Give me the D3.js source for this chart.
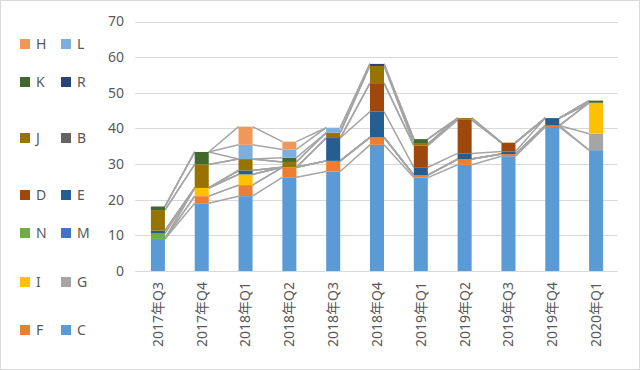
<!DOCTYPE html>
<html><head><meta charset="utf-8">
<script src="https://cdn.jsdelivr.net/npm/d3@7"></script>
<style>
html,body{margin:0;padding:0;background:#fff;}
text{font-family:"Noto Sans","Noto Sans CJK SC",sans-serif;fill:#595959;}
</style></head>
<body><svg id="chart" width="640" height="370"></svg>
<script>
const categories = ["2017年Q3","2017年Q4","2018年Q1","2018年Q2","2018年Q3","2018年Q4","2019年Q1","2019年Q2","2019年Q3","2019年Q4","2020年Q1"];
// stacking order bottom -> top
const seriesNames = ["C","F","G","I","M","N","E","D","B","J","R","K","L","H"];
const C = [9.0, 19.0, 21.0, 26.3, 27.9, 35.4, 26.2, 29.8, 32.2, 40.4, 33.9];
const F = [0,   2.0,  3.1,  2.8,  3.0,  2.1,  0.7,  1.6,  0.6,  0.4,  0];
const G = [0,   0,    0,    0,    0,    0,    0,    0,    0,    0,    4.6];
const I = [0,   2.3,  3.0,  0,    0,    0,    0,    0,    0,    0,    8.7];
const M = [0,   0,    0,    0,    0,    0,    0,    0,    0,    0,    0];
const N = [1.5, 0,    0,    0,    0,    0,    0,    0,    0,    0,    0];
const E = [0.8, 0,    1.1,  0,    6.4,  7.2,  2.2,  1.6,  0.7,  2.1,  0];
const D = [0,   0,    0,    0,    0,    8.0,  6.1,  9.4,  2.5,  0,    0];
const B = [0,   0,    0,    0,    0,    0,    0,    0,    0,    0,    0];
const J = [5.8, 6.6,  3.2,  1.5,  1.5,  4.8,  0.5,  0.5,  0,    0,    0];
const R = [0,   0,    0,    0,    0,    0.6,  0,    0,    0,    0,    0];
const K = [1.0, 3.5,  0,    1.2,  0,    0,    1.3,  0,    0,    0,    0.6];
const L = [0,   0,    4.0,  2.3,  1.4,  0,    0,    0,    0,    0,    0];
const H = [0,   0,    5.1,  2.2,  0,    0,    0,    0,    0,    0,    0];
const seriesValues = {C,F,G,I,M,N,E,D,B,J,R,K,L,H};
const colors = {C:"#5B9BD5",F:"#ED7D31",G:"#A5A5A5",I:"#FFC000",M:"#4472C4",N:"#70AD47",
  E:"#255E91",D:"#9E480E",B:"#636363",J:"#997300",R:"#264478",K:"#43682B",L:"#7CAFDD",H:"#F1975A"};
const yTicks = [0,10,20,30,40,50,60,70];
// legend rows (left, right)
const legendRows = [["H","L"],["K","R"],["J","B"],["D","E"],["N","M"],["I","G"],["F","C"]];

const svg = d3.select("#chart");
svg.append("rect").attr("x",0.5).attr("y",0.5).attr("width",639).attr("height",369)
  .attr("fill","#fff").attr("stroke","#D9D9D9");

const x = d3.scaleBand().domain(categories).range([136,618]).paddingInner(0.68).paddingOuter(0.34);
const y = d3.scaleLinear().domain([0,70]).range([271,21.5]);

// gridlines
svg.append("g").selectAll("line").data(yTicks).join("line")
  .attr("x1",135).attr("x2",618)
  .attr("y1",d=>Math.round(y(d))+0.5).attr("y2",d=>Math.round(y(d))+0.5)
  .attr("stroke","#D9D9D9").attr("stroke-width",1);

// y axis labels
const yAxis = d3.axisLeft(y).tickValues(yTicks).tickSize(0).tickPadding(0);
const yg = svg.append("g").attr("transform","translate(124,0)").call(yAxis);
yg.select(".domain").remove();
yg.selectAll("text").attr("font-size",14).style("fill","#595959")
  .style("font-family","'Noto Sans',sans-serif");

// stack
const table = categories.map((c,i)=>{const o={cat:c}; seriesNames.forEach(s=>o[s]=seriesValues[s][i]); return o;});
const stacked = d3.stack().keys(seriesNames)(table);

// series lines
const lineG = svg.append("g");
stacked.forEach(layer=>{
  for(let i=0;i<categories.length-1;i++){
    lineG.append("line")
      .attr("x1",x(categories[i])+x.bandwidth()).attr("y1",y(layer[i][1]))
      .attr("x2",x(categories[i+1])).attr("y2",y(layer[i+1][1]))
      .attr("stroke","#A5A5A5").attr("stroke-width",1.5);
  }
});

// bars
svg.append("g").selectAll("g").data(stacked).join("g")
  .attr("fill",d=>colors[d.key])
  .selectAll("rect").data(d=>d).join("rect")
  .attr("x",(d,i)=>x(categories[i]))
  .attr("width",x.bandwidth())
  .attr("y",d=>y(d[1]))
  .attr("height",d=>Math.max(0,y(d[0])-y(d[1])));

// x labels
const xAxis = d3.axisBottom(x).tickSize(0).tickPadding(0);
const xg = svg.append("g").attr("transform","translate(0,271)").call(xAxis);
xg.select(".domain").remove();
xg.selectAll("text")
  .attr("transform","rotate(-90)")
  .attr("x",-11).attr("y",0).attr("dy","0.35em")
  .attr("text-anchor","end")
  .attr("font-size",14)
  .style("fill","#595959")
  .style("font-family","'Noto Sans','Noto Sans CJK SC',sans-serif");

// legend
const rowY = [44,82,138,195,233,282,330];
const colX = [20,61];
const lg = svg.append("g");
legendRows.forEach((row,r)=>{
  row.forEach((s,c)=>{
    lg.append("rect").attr("x",colX[c]).attr("y",rowY[r]-5).attr("width",10).attr("height",10)
      .attr("fill",colors[s]);
    lg.append("text").attr("x",colX[c]+16).attr("y",rowY[r]).attr("dy","0.35em")
      .attr("font-size",14).text(s);
  });
});
</script></body></html>
